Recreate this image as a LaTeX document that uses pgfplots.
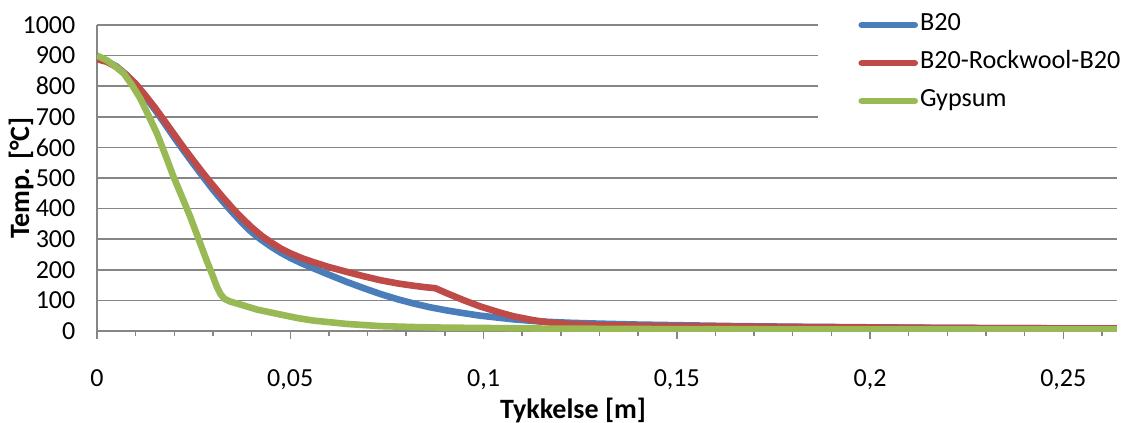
\documentclass[border=0pt]{standalone}
\usepackage{fontspec}
\setmainfont{Carlito}
\usepackage{pgfplots}
\pgfplotsset{compat=1.18}
\definecolor{cblue}{HTML}{4A7EBB}
\definecolor{cred}{HTML}{BE4B48}
\definecolor{cgreen}{HTML}{98B954}
\definecolor{cgrid}{HTML}{868686}
\begin{document}
\begin{tikzpicture}
\useasboundingbox (-48.5pt,-46pt) rectangle (514.5pt,165.5pt);
\begin{axis}[
  at={(0pt,0pt)}, anchor=south west,
  width=510pt, height=153pt, scale only axis,
  xmin=0, xmax=0.2639, ymin=0, ymax=1000,
  axis lines*=left,
  axis line style={cgrid, line width=0.75pt},
  xtick={0,0.05,0.1,0.15,0.2,0.25},
  xticklabels={0,{0,05},{0,1},{0,15},{0,2},{0,25}},
  minor xtick={0.01,0.02,0.03,0.04,0.06,0.07,0.08,0.09,0.11,0.12,0.13,0.14,0.16,0.17,0.18,0.19,0.21,0.22,0.23,0.24,0.26},
  tick align=outside,
  major tick length=3.8pt, minor tick length=2.5pt,
  xtick style={cgrid, line width=0.75pt},
  ytick={0,100,...,1000},
  yticklabels={0,100,200,300,400,500,600,700,800,900,1000},
  ytick style={draw=none},
  ymajorgrids,
  major grid style={cgrid, line width=0.75pt},
  tick label style={font=\fontsize{13pt}{15pt}\selectfont},
  xticklabel style={yshift=-12pt},
  yticklabel style={xshift=-3.5pt},
  xlabel={\textbf{Tykkelse [m]}},
  ylabel={\textbf{Temp. [°C]}},
  label style={font=\fontsize{14pt}{16pt}\selectfont},
  xlabel style={at={(axis description cs:0.4667,0)}, anchor=center, yshift=-39.5pt},
  ylabel style={at={(axis description cs:-0.0745,0.5)}, anchor=center},
  legend style={at={(axis description cs:0.7069,1)}, anchor=west, yshift=-19pt,
    draw=none, fill=white, inner xsep=20pt, inner ysep=3pt,
    font=\fontsize{13.1pt}{15pt}\selectfont,
    nodes={inner xsep=1pt, inner ysep=0pt, text height=12.4pt, text depth=6.6pt},
    column sep=0pt},
  legend cell align=left,
  legend image code/.code={\draw[#1, line cap=round] (0pt,0pt) -- (26.5pt,0pt);},
  every axis plot/.append style={line width=3.3pt, line join=round},
]
\addplot[cblue] coordinates {
(0,890) (0.0025,882) (0.005,865) (0.0075,838) (0.01,805) (0.0125,766) (0.015,723)
(0.0175,678) (0.02,632) (0.0225,588) (0.025,545) (0.0275,503) (0.03,462) (0.0325,424)
(0.035,388) (0.0375,354) (0.04,323) (0.0425,298) (0.045,276) (0.0474,257) (0.05,239)
(0.053,221) (0.056,205) (0.06,184) (0.0647,160) (0.069,140) (0.0733,121) (0.078,103)
(0.0819,90) (0.086,78) (0.0906,67) (0.095,58) (0.0992,50) (0.1035,44) (0.1078,38)
(0.1147,31) (0.122,27) (0.13,24) (0.14,21) (0.15,19) (0.165,16) (0.18,14) (0.2,12)
(0.22,10) (0.24,9) (0.264,8)
};
\addlegendentry{B20}
\addplot[cred] coordinates {
(0,888) (0.0025,880) (0.005,863) (0.0075,838) (0.01,808) (0.0125,770) (0.015,730)
(0.0175,686) (0.02,642) (0.0225,598) (0.025,556) (0.0275,515) (0.03,476) (0.0325,438)
(0.035,402) (0.0375,369) (0.04,339) (0.0425,312) (0.045,290) (0.0475,270) (0.05,254)
(0.053,238) (0.056,225) (0.06,209) (0.0647,193) (0.069,179) (0.0733,166) (0.078,155)
(0.0819,148) (0.085,143) (0.0875,140) (0.0906,123) (0.095,100) (0.0992,80) (0.1043,60)
(0.1078,48) (0.113,35) (0.117,28) (0.1216,23) (0.13,19) (0.1475,16) (0.18,13)
(0.22,10) (0.264,8)
};
\addlegendentry{B20-Rockwool-B20}
\addplot[cgreen] coordinates {
(0,900) (0.0025,885) (0.005,862) (0.0069,842) (0.009,805) (0.0112,760) (0.0133,705)
(0.0155,646) (0.0177,575) (0.0198,504) (0.022,438) (0.0241,374) (0.0263,300)
(0.0285,226) (0.0298,185) (0.031,145) (0.032,120) (0.033,105) (0.0345,96) (0.037,87)
(0.0414,70) (0.0474,54) (0.052,42) (0.056,34) (0.0647,23) (0.0733,16) (0.0819,13)
(0.09,11) (0.099,10) (0.115,8) (0.15,6) (0.2,5) (0.264,5)
};
\addlegendentry{Gypsum}
\end{axis}
\end{tikzpicture}
\end{document}
